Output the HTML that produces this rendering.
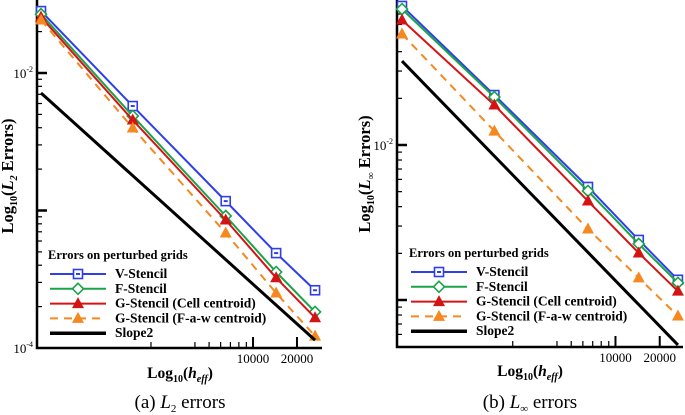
<!DOCTYPE html>
<html><head><meta charset="utf-8">
<style>
html,body{margin:0;padding:0;background:#fff;}
svg{display:block;font-family:"Liberation Serif","DejaVu Serif",serif;}
</style></head>
<body>
<svg id="chart" width="685" height="415" viewBox="0 0 685 415" xmlns="http://www.w3.org/2000/svg"></svg>
<script>
// ---- data ----
const hEff = [353, 1500, 6500, 14400, 26600];
const seriesNames = ["V-Stencil", "F-Stencil", "G-Stencil (Cell centroid)", "G-Stencil (F-a-w centroid)", "Slope2"];
const l2V = [0.0282, 0.00575, 0.00117, 0.00049, 0.000263];
const l2F = [0.0268, 0.00487, 0.000912, 0.000357, 0.000183];
const l2Gc = [0.0255, 0.00455, 0.000853, 0.000324, 0.000166];
const l2Gf = [0.0243, 0.00398, 0.000686, 0.000251, 0.000122];
const l2Slope = [0.00716, 0.000114];
const liV = [0.0789, 0.021, 0.00536, 0.00244, 0.00135];
const liF = [0.0753, 0.0204, 0.00505, 0.0023, 0.00129];
const liGc = [0.064, 0.0181, 0.00435, 0.00201, 0.00114];
const liGf = [0.052, 0.0123, 0.00287, 0.00139, 0.000789];
const liSlope = [0.0348, 0.000513];
const xTickLabels = [10000, 20000];
const xMinorTicks = [2000, 4000, 5000, 6000, 7000, 8000, 9000];

const NS = "http://www.w3.org/2000/svg";
const svg = document.getElementById("chart");
function mk(tag, attrs, parent) {
  const e = document.createElementNS(NS, tag);
  for (const k in attrs) e.setAttribute(k, attrs[k]);
  (parent || svg).appendChild(e);
  return e;
}
const colors = ["#2f3fe8", "#1aa34a", "#d41414", "#f5881f", "#000"];

function panel(cfg) {
  const g = mk("g", {});
  
  
  const lg0 = Math.log10(hEff[0]);
  const X = h => cfg.x0 + cfg.xs * (Math.log10(h) - lg0);
  const Y = v => cfg.yRef - cfg.ys * (Math.log10(v) - cfg.refExp);
  const ax = mk("path", {d:`M${cfg.axL} 0 V${cfg.axB} H${cfg.axR}`, stroke:"#000","stroke-width":2.5, fill:"none"}, g);
  
  
  for (let e = -5; e <= 0; e++) {
    for (let m = 1; m <= 9; m++) {
      const v = m * Math.pow(10, e);
      const y = Y(v);
      if (y < 1 || y > cfg.axB - 1) continue;
      const t = mk("line", {x1:cfg.axL, x2:cfg.axL + (m===1?10:5), y1:y, y2:y, stroke:"#000","stroke-width":m===1?2.5:1.2}, g);
      
      
    }
  }
  cfg.yLabels.forEach(e => {
    const t = mk("text", {x:cfg.axL - 4, y:Y(Math.pow(10,e)) + 5, "text-anchor":"end", "font-size":13}, g);
    
    
    t.textContent = "10";
    const s = mk("tspan", {dy:-6, "font-size":8}, t); s.textContent = String(e);
  });
  xMinorTicks.forEach(h => {
    const t = mk("line", {x1:X(h), x2:X(h), y1:cfg.axB, y2:cfg.axB - 6, stroke:"#000","stroke-width":1.2}, g);
    
    
  });
  xTickLabels.forEach(h => {
    const t = mk("line", {x1:X(h), x2:X(h), y1:cfg.axB, y2:cfg.axB - 11, stroke:"#000","stroke-width":2}, g);
    
    
    const l = mk("text", {x:X(h), y:cfg.axB + 15, "text-anchor":"middle", "font-size":13}, g);
    
    
    l.textContent = String(h);
  });
  const data = cfg.series;
  data.forEach((vals, i) => {
    const pts = vals.map((v, j) => `${X(hEff[j])},${Y(v)}`).join(" ");
    const pl = mk("polyline", {points:pts, fill:"none", stroke:colors[i], "stroke-width":2, "stroke-dasharray": i===3 ? "8,6" : "none"}, g);
    
    
    vals.forEach((v, j) => marker(g, i, X(hEff[j]), Y(v)));
  });
  const sp = mk("line", {x1:X(hEff[0]), y1:Y(cfg.slope[0]), x2:X(hEff[hEff.length-1]), y2:Y(cfg.slope[1]), stroke:"#000","stroke-width":3}, g);
  
  
  const lgd = mk("g", {}, g);
  
  
  const tt = mk("text", {x:cfg.lx - 2, y:cfg.ly, "font-size":12.5, "font-weight":"bold"}, lgd);
  
  
  tt.textContent = "Errors on perturbed grids";
  seriesNames.forEach((n, i) => {
    const y = cfg.ly + 19 + i * 14.8;
    const ln = mk("line", {x1:cfg.lx, x2:cfg.lx + 56, y1:y - 4, y2:y - 4, stroke:colors[i], "stroke-width":i===4?3.5:2, "stroke-dasharray": i===3 ? "8,6" : "none"}, lgd);
    
    
    if (i < 4) marker(lgd, i, cfg.lx + 28, y - 4);
    const t = mk("text", {x:cfg.lx + 65, y:y, "font-size":13.5, "font-weight":"bold"}, lgd);
    
    
    t.textContent = n;
  });
  const yt = mk("text", {transform:`translate(${cfg.ytx},${cfg.yty}) rotate(-90)`, "text-anchor":"middle", "font-size":16.5, "font-weight":"bold"}, g);
  
  
  yt.innerHTML = `Log<tspan font-size="10" dy="4">10</tspan><tspan dy="-4">(</tspan><tspan font-style="italic">L</tspan><tspan font-size="10" dy="4" font-style="italic">${cfg.sub}</tspan><tspan dy="-4"> Errors)</tspan>`;
  const xt = mk("text", {x:cfg.xtx, y:cfg.xty, "text-anchor":"middle", "font-size":15.5, "font-weight":"bold"}, g);
  
  
  xt.innerHTML = `Log<tspan font-size="10" dy="4">10</tspan><tspan dy="-4">(</tspan><tspan font-style="italic">h</tspan><tspan font-size="10" dy="4" font-style="italic">eff</tspan><tspan dy="-4">)</tspan>`;
  const cp = mk("text", {x:cfg.xtx, y:cfg.cy, "text-anchor":"middle", "font-size":19}, g);
  
  
  cp.innerHTML = `${cfg.cap} <tspan font-style="italic">L</tspan><tspan font-size="11" dy="4">${cfg.sub}</tspan><tspan dy="-4"> errors</tspan>`;
}

function marker(parent, i, x, y) {
  let m;
  if (i === 0) {
    m = mk("g", {}, parent);
    mk("rect", {x:x-4.5, y:y-4.5, width:9, height:9, fill:"#fff", stroke:colors[0], "stroke-width":1.6}, m);
    mk("rect", {x:x-2, y:y-1, width:4, height:2, fill:colors[0]}, m);
  } else if (i === 1) {
    m = mk("path", {d:`M${x} ${y-5.5} L${x+5.5} ${y} L${x} ${y+5.5} L${x-5.5} ${y} Z`, fill:"#fff", stroke:colors[1], "stroke-width":1.6}, parent);
  } else if (i === 2 || i === 3) {
    m = mk("path", {d:`M${x} ${y-6.5} L${x+6} ${y+4.5} L${x-6} ${y+4.5} Z`, fill:colors[i]}, parent);
  } else return;
  
  
}

panel({name:"l2-panel", x0:41, xs:146, yRef:73, ys:137.5, refExp:-2, axL:37, axB:348, axR:322,
  yLabels:[-2,-4], series:[l2V,l2F,l2Gc,l2Gf], slope:l2Slope, lx:50, ly:259,
  ytx:13, yty:176, xtx:180, xty:378, cy:408, sub:"2", cap:"(a)"});
panel({name:"linf-panel", x0:402, xs:147, yRef:145, ys:155, refExp:-2, axL:397, axB:347, axR:683,
  yLabels:[-2], series:[liV,liF,liGc,liGf], slope:liSlope, lx:411, ly:257,
  ytx:370, yty:174, xtx:530, xty:376, cy:408, sub:"∞", cap:"(b)"});
</script>
</body></html>
